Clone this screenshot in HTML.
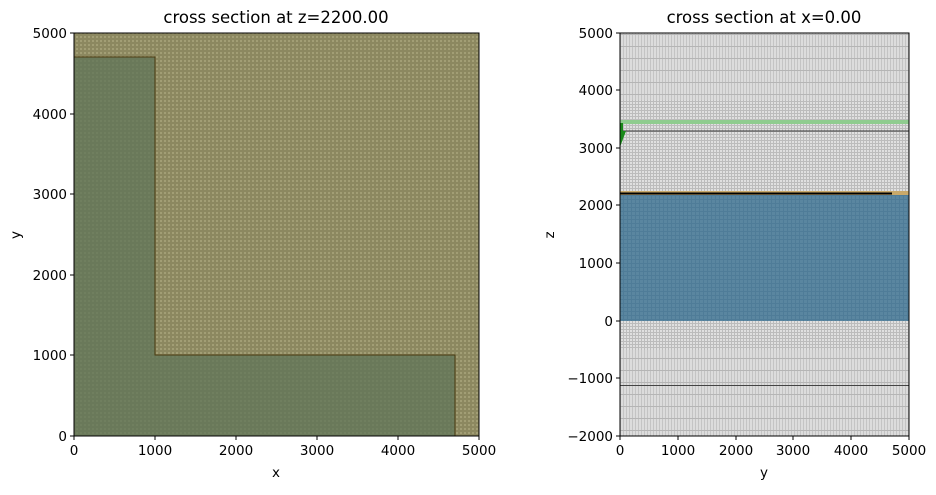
<!DOCTYPE html>
<html><head><meta charset="utf-8"><style>
body{margin:0;background:#fff;}
svg text{font-family:"DejaVu Sans","Liberation Sans",sans-serif;font-size:13.5px;fill:#000;}
</style></head><body>
<svg width="936" height="490" xmlns="http://www.w3.org/2000/svg">
<defs>
<pattern id="gl" width="4" height="4" patternUnits="userSpaceOnUse">
<rect width="4" height="4" fill="#8c8860"/>
<rect width="2" height="2" fill="#a29e75"/>
</pattern>
<pattern id="gr" width="3" height="3" patternUnits="userSpaceOnUse">
<rect width="3" height="3" fill="#bcbcbc"/>
<rect width="2" height="2" fill="#e0e0e0"/>
</pattern>
<pattern id="gr2" width="3" height="12" patternUnits="userSpaceOnUse">
<rect width="3" height="12" fill="#dcdcdc"/>
<rect x="2" width="1" height="12" fill="#c4c4c4"/>
<rect y="10" width="3" height="1" fill="#b5b5b5"/>
</pattern>
<pattern id="gb" width="4" height="4" patternUnits="userSpaceOnUse">
<rect width="4" height="4" fill="#4f7c98"/>
<rect width="3" height="3" fill="#5a86a0"/>
</pattern>
</defs>
<!-- Left -->
<text x="276" y="23" text-anchor="middle" style="font-size:16.5px">cross section at z=2200.00</text>
<rect x="74" y="33" width="405" height="403" fill="url(#gl)"/>
<path d="M74 57 H155 V355 H455 V436 H74 Z" fill="#5f7458" fill-opacity="0.75" stroke="#4a3a10" stroke-width="1"/>
<rect x="74" y="33" width="405" height="403" fill="none" stroke="#000" stroke-width="1"/>
<g stroke="#000">
<line x1="74" y1="436" x2="74" y2="440"/><line x1="155" y1="436" x2="155" y2="440"/><line x1="236" y1="436" x2="236" y2="440"/><line x1="317" y1="436" x2="317" y2="440"/><line x1="398" y1="436" x2="398" y2="440"/><line x1="479" y1="436" x2="479" y2="440"/>
<line x1="70" y1="436" x2="74" y2="436"/><line x1="70" y1="355" x2="74" y2="355"/><line x1="70" y1="275" x2="74" y2="275"/><line x1="70" y1="194" x2="74" y2="194"/><line x1="70" y1="114" x2="74" y2="114"/><line x1="70" y1="33" x2="74" y2="33"/>
</g>
<g text-anchor="middle">
<text x="74" y="455">0</text><text x="155" y="455">1000</text><text x="236" y="455">2000</text><text x="317" y="455">3000</text><text x="398" y="455">4000</text><text x="479" y="455">5000</text>
<text x="276" y="477">x</text>
</g>
<g text-anchor="end">
<text x="67" y="441">0</text><text x="67" y="360">1000</text><text x="67" y="280">2000</text><text x="67" y="199">3000</text><text x="67" y="119">4000</text><text x="67" y="38">5000</text>
</g>
<text x="20" y="235" text-anchor="middle" transform="rotate(-90 20 235)">y</text>
<!-- Right -->
<text x="764" y="23" text-anchor="middle" style="font-size:16.5px">cross section at x=0.00</text>
<rect x="620" y="33" width="289" height="403" fill="url(#gr2)"/>
<rect x="620" y="100" width="289" height="250" fill="url(#gr)"/>
<rect x="620" y="120" width="289" height="4" fill="#8fcc8f"/>
<line x1="620" y1="131" x2="909" y2="131" stroke="#333" stroke-width="1"/>
<rect x="620" y="191" width="289" height="4" fill="#c9a96a"/>
<line x1="620" y1="193.5" x2="892" y2="193.5" stroke="#000" stroke-width="2"/>
<rect x="620" y="195" width="289" height="126" fill="url(#gb)"/>
<line x1="620" y1="385.5" x2="909" y2="385.5" stroke="#444" stroke-width="1"/>
<polygon points="620,123 623,123 623,131 626,131 620,147" fill="#1a8a1a"/>
<rect x="620" y="33" width="289" height="403" fill="none" stroke="#000" stroke-width="1"/>
<g stroke="#000">
<line x1="620" y1="436" x2="620" y2="440"/><line x1="678" y1="436" x2="678" y2="440"/><line x1="736" y1="436" x2="736" y2="440"/><line x1="793" y1="436" x2="793" y2="440"/><line x1="851" y1="436" x2="851" y2="440"/><line x1="909" y1="436" x2="909" y2="440"/>
<line x1="616" y1="436" x2="620" y2="436"/><line x1="616" y1="378" x2="620" y2="378"/><line x1="616" y1="321" x2="620" y2="321"/><line x1="616" y1="263" x2="620" y2="263"/><line x1="616" y1="205" x2="620" y2="205"/><line x1="616" y1="148" x2="620" y2="148"/><line x1="616" y1="90" x2="620" y2="90"/><line x1="616" y1="33" x2="620" y2="33"/>
</g>
<g text-anchor="middle">
<text x="620" y="455">0</text><text x="678" y="455">1000</text><text x="736" y="455">2000</text><text x="793" y="455">3000</text><text x="851" y="455">4000</text><text x="909" y="455">5000</text>
<text x="764" y="477">y</text>
</g>
<g text-anchor="end">
<text x="613" y="441">−2000</text><text x="613" y="383">−1000</text><text x="613" y="326">0</text><text x="613" y="268">1000</text><text x="613" y="210">2000</text><text x="613" y="153">3000</text><text x="613" y="95">4000</text><text x="613" y="38">5000</text>
</g>
<text x="554" y="235" text-anchor="middle" transform="rotate(-90 554 235)">z</text>
</svg>
</body></html>
